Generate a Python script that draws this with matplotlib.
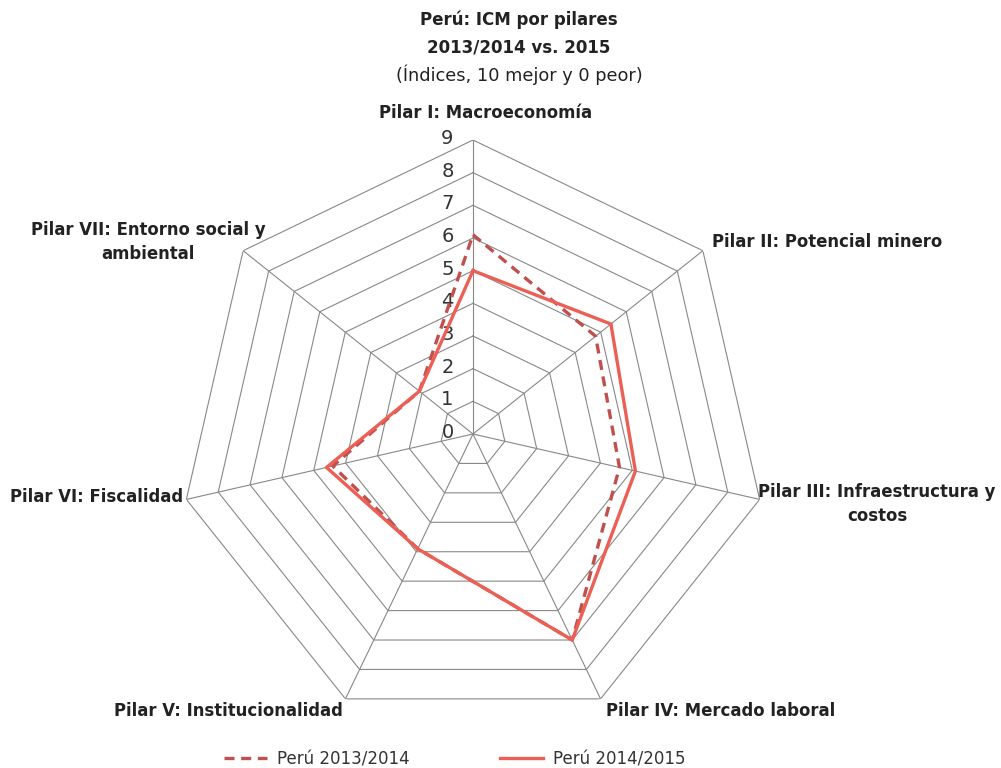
import numpy as np
import matplotlib.pyplot as plt

pilares = ["Pilar I: Macroeconomía", "Pilar II: Potencial minero",
           "Pilar III: Infraestructura y\ncostos", "Pilar IV: Mercado laboral",
           "Pilar V: Institucionalidad", "Pilar VI: Fiscalidad",
           "Pilar VII: Entorno social y\nambiental"]
peru_2013_2014 = [6.1, 4.8, 4.6, 7.0, 3.9, 4.4, 2.1]
peru_2014_2015 = [5.0, 5.4, 5.1, 7.0, 3.9, 4.6, 2.1]
niveles = list(range(0, 10))

plt.rcParams['font.family'] = ['DejaVu Sans']

W, H = 1001, 768
fig = plt.figure(figsize=(W / 100, H / 100), dpi=100)

cx, cy, R = 473, 434, 294
ax = fig.add_axes([(cx - R) / W, (H - cy - R) / H, 2 * R / W, 2 * R / H], projection='polar')
ax.set_theta_offset(np.pi / 2)
ax.set_theta_direction(-1)
ax.set_ylim(0, 9)
ax.grid(False)
ax.spines['polar'].set_visible(False)
ax.set_xticks([])
ax.set_yticks([])
ax.patch.set_visible(False)

n = len(pilares)
ang = np.linspace(0, 2 * np.pi, n, endpoint=False)
ang_c = np.append(ang, ang[0])

grid_col = '#888888'
for r in niveles[1:]:
    ax.plot(ang_c, [r] * (n + 1), color=grid_col, lw=0.8, zorder=1)
for a in ang:
    ax.plot([a, a], [0, 9], color=grid_col, lw=0.8, zorder=1)

for r in niveles:
    ax.annotate(str(r), xy=(0, r), xytext=(-14, 1), textcoords='offset points',
                ha='right', va='center', fontsize=14, color='#333333')

v1 = np.append(peru_2013_2014, peru_2013_2014[0])
v2 = np.append(peru_2014_2015, peru_2014_2015[0])
l1, = ax.plot(ang_c, v1, color='#C0504D', lw=2.4, ls=(0, (3, 2)), zorder=3,
              label='Perú 2013/2014')
l2, = ax.plot(ang_c, v2, color='#EC5F55', lw=2.4, zorder=4, label='Perú 2014/2015')

def px(x, y, s, **kw):
    fig.text(x / W, 1 - y / H, s, **kw)

lab = dict(fontsize=11.9, fontweight='bold', color='#222222', va='center', linespacing=1.4)
px(486, 113, pilares[0], ha='center', **lab)
px(712, 242, pilares[1], ha='left', **lab)
px(877, 504, pilares[2], ha='center', multialignment='center', **lab)
px(606, 711, pilares[3], ha='left', **lab)
px(343, 711, pilares[4], ha='right', **lab)
px(183, 497, pilares[5], ha='right', **lab)
px(148, 242, pilares[6], ha='center', multialignment='center', **lab)

px(519, 20, "Perú: ICM por pilares", ha='center', va='center', fontsize=12,
   fontweight='bold', color='#222222')
px(519, 48, "2013/2014 vs. 2015", ha='center', va='center', fontsize=12,
   fontweight='bold', color='#222222')
px(519, 75, "(Índices, 10 mejor y 0 peor)", ha='center', va='center', fontsize=12.8,
   color='#222222')

fig.legend(handles=[l1, l2], loc='center', bbox_to_anchor=(455 / W, 1 - 759 / H),
           ncol=2, frameon=False, fontsize=12, handlelength=2.6,
           columnspacing=5.4, handletextpad=0.6, labelcolor='#333333')

fig.savefig('out.png', dpi=100)
